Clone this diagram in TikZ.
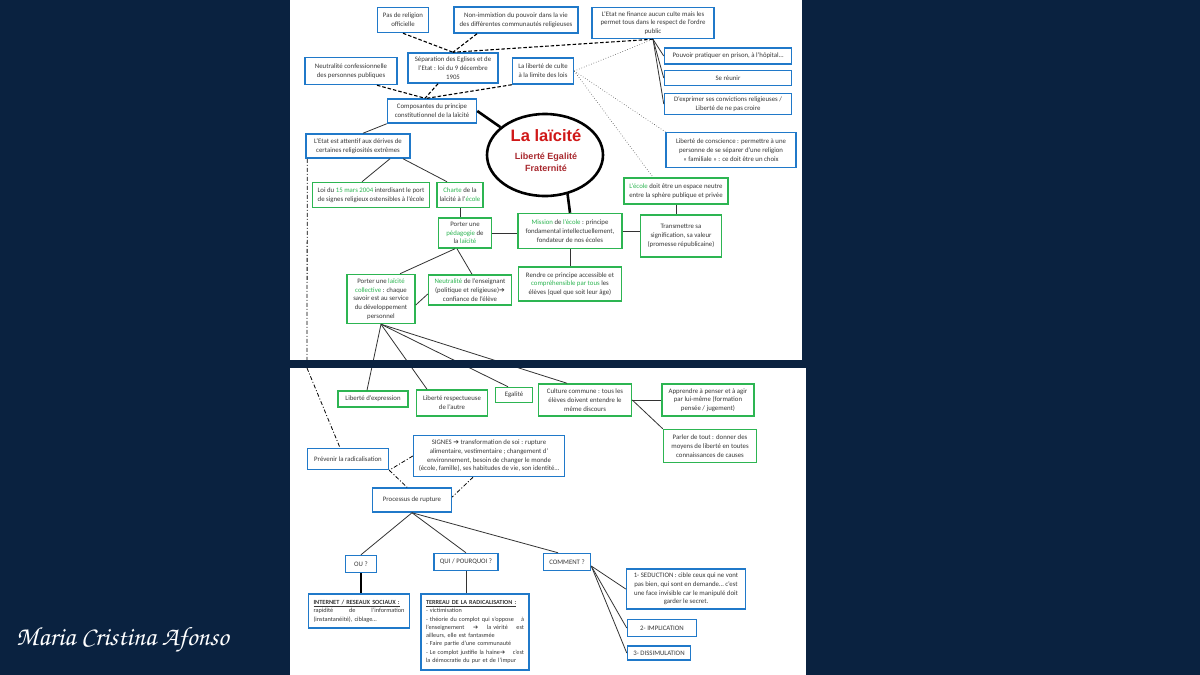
\documentclass[tikz,border=0pt]{standalone}
\usepackage[T1,TU]{fontenc}
\usepackage{fontspec}
\setmainfont{Carlito}
\newfontfamily\titlefont{Liberation Sans}
\newfontfamily\arrfont{DejaVu Sans}
\usepackage{tikz}
\usetikzlibrary{shapes}

\definecolor{bg}{HTML}{0A2240}
\definecolor{mblue}{HTML}{2079C9}
\definecolor{mgreen}{HTML}{2DB552}
\definecolor{txt}{HTML}{383838}
\definecolor{laicred}{HTML}{D01818}
\definecolor{subred}{HTML}{A8282E}
\newcommand{\grn}[1]{\textcolor{mgreen}{#1}}
\newcommand{\rarr}{{\arrfont\char"2794}}
\newcommand{\boxfont}{\fontsize{6.8}{8.7}\selectfont}
\newcommand{\signfont}{\fontencoding{T1}\fontfamily{pzc}\fontseries{mb}\fontshape{it}\fontsize{26.5}{28}\selectfont}

\begin{document}
\begin{tikzpicture}[x=1pt, y=-1pt,
  box/.style={draw, line width=1.5pt, fill=white, inner sep=1pt, align=center, font=\boxfont, text=txt},
  bbox/.style={box, draw=mblue},
  gbox/.style={box, draw=mgreen},
  link/.style={draw=black!80, line width=0.8pt},
  heavy/.style={draw=black, line width=2.6pt},
  dashlink/.style={draw=black, line width=1.1pt, dash pattern=on 3.5pt off 2pt},
  dotlink/.style={draw=black!70, line width=0.6pt, dotted},
  dashdot/.style={draw=black, line width=0.8pt, dash pattern=on 4pt off 2pt on 1pt off 2pt}]
\useasboundingbox (0,0) rectangle (1200,675);
\fill[bg] (0,0) rectangle (1200,675);
\fill[white] (290,0) rectangle (802,360);
\fill[white] (290,368) rectangle (806,675);

\node[bbox, minimum width=51pt, minimum height=25pt] (pasrel) at (403,20) {Pas de religion\\officielle};
\node[bbox, minimum width=124pt, minimum height=26pt] (immix) at (516,20) {Non-immixtion du pouvoir dans la vie\\des différentes communautés religieuses};
\node[bbox, minimum width=122pt, minimum height=31pt] (finance) at (653,23) {L'Etat ne finance aucun culte mais les\\permet tous dans le respect de l'ordre\\public};
\node[bbox, minimum width=90pt, minimum height=30pt] (separ) at (453,68) {Séparation des Eglises et de\\l'Etat : loi du 9 décembre\\1905};
\node[bbox, minimum width=92pt, minimum height=27pt] (neutre) at (351,71) {Neutralité confessionnelle\\des personnes publiques};
\node[bbox, minimum width=61pt, minimum height=26pt] (culte) at (543,71) {La liberté de culte\\à la limite des lois};
\node[bbox, minimum width=89pt, minimum height=24pt] (compos) at (432,111) {Composantes du principe\\constitutionnel de la laïcité};
\node[bbox, minimum width=127pt, minimum height=16pt] (pratiq) at (728,56) {Pouvoir pratiquer en prison, à l'hôpital…};
\node[bbox, minimum width=127pt, minimum height=15pt] (reunir) at (728,78) {Se réunir};
\node[bbox, minimum width=127pt, minimum height=21pt] (exprim) at (728,104) {D'exprimer ses convictions religieuses /\\Liberté de ne pas croire};
\node[bbox, minimum width=130pt, minimum height=35pt] (consc) at (731,150) {Liberté de conscience : permettre à une\\personne de se séparer d'une religion\\« familiale » : ce doit être un choix};
\node[draw, ellipse, line width=2.6pt, minimum width=116pt, minimum height=82pt, inner sep=0pt] (laicite) at (545,155) {};
\node[font=\titlefont\bfseries\fontsize{16.5}{18}\selectfont, text=laicred] (titre) at (546,136) {La laïcité};
\node[font=\titlefont\bfseries\fontsize{9}{12}\selectfont, text=subred, align=center] (devise) at (546,162) {Liberté Egalité\\Fraternité};
\node[bbox, minimum width=104pt, minimum height=24pt] (etat) at (358,146) {L'Etat est attentif aux dérives de\\certaines religiosités extrêmes};
\node[gbox, minimum width=117pt, minimum height=25pt] (loi) at (371,195) {Loi du \grn{15 mars 2004} interdisant le port\\de signes religieux ostensibles à l'école};
\node[gbox, minimum width=46pt, minimum height=25pt] (charte) at (460,195) {\grn{Charte} de la\\laïcité à l'\grn{école}};
\node[gbox, minimum width=53pt, minimum height=30pt] (pedago) at (465,233) {Porter une\\\grn{pédagogie} de\\la \grn{laïcité}};
\node[gbox, minimum width=104pt, minimum height=35pt] (mission) at (570,231) {\grn{Mission} de \grn{l'école} : principe\\fondamental intellectuellement,\\fondateur de nos écoles};
\node[gbox, minimum width=104pt, minimum height=26pt] (ecole) at (676,191) {\grn{L'école} doit être un espace neutre\\entre la sphère publique et privée};
\node[gbox, minimum width=81pt, minimum height=42pt] (transm) at (681,236) {Transmettre sa\\signification, sa valeur\\(promesse républicaine)};
\node[gbox, minimum width=103pt, minimum height=34pt] (rendre) at (570,284) {Rendre ce principe accessible et\\\grn{compréhensible par tous} les\\élèves (quel que soit leur âge)};
\node[gbox, minimum width=68pt, minimum height=49pt] (collect) at (381,299) {Porter une \grn{laïcité}\\\grn{collective} : chaque\\savoir est au service\\du développement\\personnel};
\node[gbox, minimum width=83pt, minimum height=30pt] (neutens) at (470,290) {\grn{Neutralité} de l'enseignant\\(politique et religieuse)\rarr\\confiance de l'élève};

\node[gbox, minimum width=70pt, minimum height=16pt] (expr) at (373,399) {Liberté d'expression};
\node[gbox, minimum width=71pt, minimum height=26pt] (respect) at (452,403) {Liberté respectueuse\\de l'autre};
\node[gbox, minimum width=37pt, minimum height=15pt] (egal) at (514,395) {Egalité};
\node[gbox, minimum width=93pt, minimum height=32pt] (culture) at (585,400) {Culture commune : tous les\\élèves doivent entendre le\\même discours};
\node[gbox, minimum width=92pt, minimum height=32pt] (apprend) at (708,400) {Apprendre à penser et à agir\\par lui-même (formation\\pensée / jugement)};
\node[gbox, minimum width=93pt, minimum height=33pt] (parler) at (710,446) {Parler de tout : donner des\\moyens de liberté en toutes\\connaissances de causes};
\node[bbox, minimum width=81pt, minimum height=21pt] (prevenir) at (348,459) {Prévenir la radicalisation};
\node[bbox, minimum width=151pt, minimum height=41pt] (signes) at (489,456) {SIGNES \rarr{} transformation de soi : rupture\\alimentaire, vestimentaire ; changement d'\\environnement, besoin de changer le monde\\(école, famille), ses habitudes de vie, son identité…};
\node[bbox, minimum width=79pt, minimum height=24pt] (rupture) at (412,500) {Processus de rupture};
\node[bbox, minimum width=31pt, minimum height=17pt] (ou) at (361,564) {OU ?};
\node[bbox, minimum width=64pt, minimum height=17pt] (qui) at (466,562) {QUI / POURQUOI ?};
\node[bbox, minimum width=47pt, minimum height=17pt] (comment) at (567,562) {COMMENT ?};
\node[bbox, text width=91pt, inner xsep=5pt, align=left, minimum height=34pt, font=\fontsize{6.3}{8.6}\selectfont] (internet) at (359,611) {\underline{\textbf{INTERNET / RESEAUX SOCIAUX :}}\\\leavevmode\hbox to 91pt{rapidité\hfill de\hfill l'information}\\(instantanéité), ciblage…};
\node[bbox, text width=98pt, inner xsep=5pt, align=left, minimum height=76pt, font=\fontsize{6.2}{8.3}\selectfont] (terreau) at (475,632) {\underline{\textbf{TERREAU DE LA RADICALISATION :}}\\- victimisation\\\leavevmode\hbox to 98pt{- théorie du complot qui s'oppose\hfill à}\\\leavevmode\hbox to 98pt{l'enseignement\hfill\rarr\hfill la vérité\hfill est}\\ailleurs, elle est fantasmée\\- Faire partie d'une communauté\\\leavevmode\hbox to 98pt{- Le complot justifie la haine\rarr\hfill c'est}\\la démocratie du pur et de l'impur};
\node[bbox, minimum width=119pt, minimum height=40pt] (seduc) at (686,589) {1- SEDUCTION : cible ceux qui ne vont\\pas bien, qui sont en demande… c'est\\une face invisible car le manipulé doit\\garder le secret.};
\node[bbox, minimum width=69pt, minimum height=17pt] (implic) at (662,628) {2- IMPLICATION};
\node[bbox, minimum width=63pt, minimum height=14pt] (dissim) at (659,653) {3- DISSIMULATION};

\coordinate (dtop) at (307,360);
\coordinate (dbot) at (307,368);

\draw[dashlink] (pasrel.south) -- (separ.north);
\draw[dashlink] ([xshift=-39pt]immix.south) -- (separ.north);
\draw[dashlink] (finance.south) -- (separ.north);
\draw[dashlink] ([xshift=-15pt]separ.south) -- ([xshift=-7pt]compos.north);
\draw[dashlink] ([xshift=26pt]neutre.south) -- ([xshift=-7pt]compos.north);
\draw[dashlink] (culte.south west) -- ([xshift=-5pt]compos.north);
\draw[dotlink] (culte.east) -- (finance.south);
\draw[dotlink] (culte.east) -- (consc.north west);
\draw[dotlink] (culte.east) -- ([xshift=-23pt]ecole.north);
\draw[link] (finance.south) -- (pratiq.west);
\draw[link] (finance.south) -- (reunir.west);
\draw[link] (finance.south) -- (exprim.west);
\draw[heavy] (compos.east) -- (laicite.148);
\draw[heavy] (laicite.300) -- (mission.north);
\draw[link] (compos.south west) -- ([xshift=5pt]etat.north);
\draw[link] ([xshift=32pt]etat.south) -- ([xshift=-9pt]loi.north);
\draw[link] ([xshift=45pt]etat.south) -- ([xshift=-13pt]charte.north);
\draw[link] (charte.south) -- (charte.south |- pedago.north);
\draw[link] (pedago.east) -- (pedago.east -| mission.west);
\draw[link] (mission.east) -- (mission.east -| transm.west);
\draw[link] (ecole.south) -- (ecole.south |- transm.north);
\draw[link] (mission.south) -- (rendre.north);
\draw[link] ([xshift=-10pt]pedago.south) -- ([xshift=19pt]collect.north);
\draw[link] ([xshift=-8pt]pedago.south) -- ([xshift=2pt]neutens.north);
\draw[link] ([yshift=-6pt]collect.east) -- ([yshift=-4pt]neutens.west);
\draw[link] (collect.south) -- ([xshift=-6pt]expr.north);
\draw[link] (collect.south) -- ([xshift=-25pt]respect.north);
\draw[link] (collect.south) -- ([xshift=-6pt]egal.north);
\draw[link] (collect.south) -- ([xshift=-18pt]culture.north);
\draw[link] (culture.east) -- (culture.east -| apprend.west);
\draw[link] (culture.east) -- (parler.north west);
\draw[dashdot] ([xshift=2pt]etat.south west) -- (dtop);
\draw[dashdot] (dbot) -- ([xshift=-8pt]prevenir.north);
\draw[dashdot] (signes.west) -- (prevenir.south east);
\draw[dashdot] (prevenir.south east) -- ([xshift=-5pt]rupture.north);
\draw[dashdot] ([xshift=-16pt]signes.south) -- ([yshift=3pt]rupture.east);
\draw[link] (rupture.south) -- (ou.north);
\draw[link] (rupture.south) -- (qui.north);
\draw[link] (rupture.south) -- ([xshift=-9pt]comment.north);
\draw[heavy, line width=2pt] (ou.south) -- (ou.south |- internet.north);
\draw[link] (qui.south) -- (qui.south |- terreau.north);
\draw[link] ([yshift=-4pt]comment.east) -- (seduc.west);
\draw[link] ([yshift=-4pt]comment.east) -- (implic.west);
\draw[link] ([yshift=-4pt]comment.east) -- (dissim.west);

\fill[bg] (290,360) rectangle (806,368);
\node[anchor=west, text=white, font=\signfont, inner sep=0pt] (signature) at (16,640) {Maria Cristina Afonso};
\end{tikzpicture}
\end{document}
